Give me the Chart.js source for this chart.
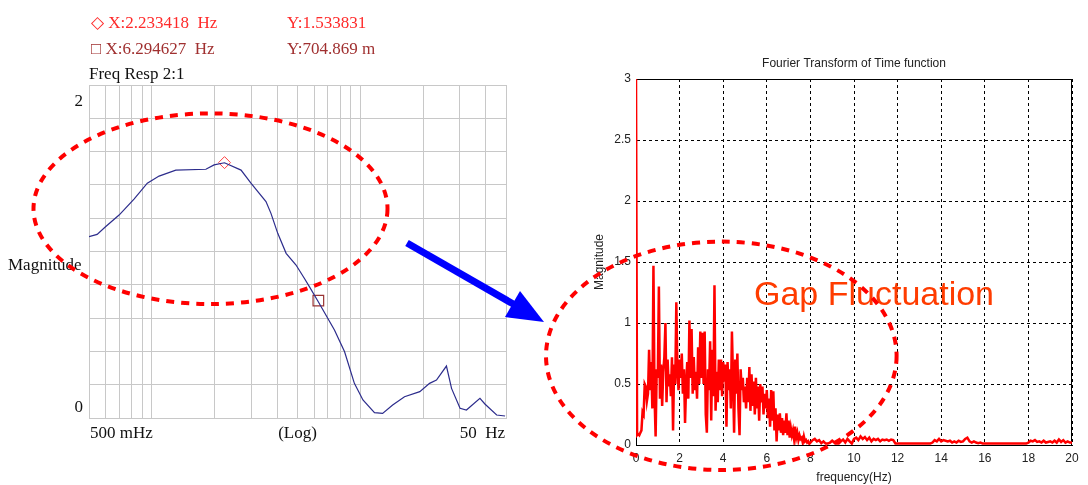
<!DOCTYPE html>
<html>
<head>
<meta charset="utf-8">
<script src="https://cdn.jsdelivr.net/npm/chart.js@4.4.1/dist/chart.umd.min.js"></script>
<style>
    html, body { margin: 0; padding: 0; background: #fff; }
    #wrap { position: relative; width: 1088px; height: 485px; overflow: hidden; }
    #respChart { position: absolute; left: 0; top: 0; }
    #fftChart { position: absolute; left: 560px; top: 0; }
    #marks { position: absolute; left: 0; top: 0; pointer-events: none; }
</style>
</head>
<body>
<div id="wrap">
    <canvas id="respChart" width="540" height="485"></canvas>
    <canvas id="fftChart" width="528" height="485"></canvas>
    <svg id="marks" width="1088" height="485">
        <ellipse cx="210.5" cy="208.7" rx="177" ry="95.3" fill="none" stroke="#ff0000" stroke-width="4" stroke-dasharray="8 7"/>
        <ellipse cx="721.3" cy="355.8" rx="175.3" ry="114.2" fill="none" stroke="#ff0000" stroke-width="4" stroke-dasharray="8 7"/>
        <line x1="407" y1="243" x2="515" y2="305" stroke="#0000ff" stroke-width="7"/>
        <polygon points="544,322 505,317 520,291" fill="#0000ff"/>
    </svg>
</div>
<script>
// ---- left panel: analyser frequency response (log x) ----
const respHz  = [0.5, 0.547, 0.6, 0.697, 0.822, 0.952, 1.084, 1.304, 1.818, 1.99, 2.233, 2.68, 2.99,
                 3.53, 3.73, 4.02, 4.41, 4.92, 5.39, 5.7, 6.29, 7.52, 8.41, 9.37, 10.3, 11.7, 12.8,
                 14.3, 16.3, 19.3, 21.5, 23.2, 25.9, 27.4, 30.1, 32.3, 37.5, 39.6, 45.1, 49.5];
const respMag = [1.089, 1.103, 1.149, 1.219, 1.315, 1.41, 1.453, 1.489, 1.494, 1.52, 1.533, 1.489, 1.41,
                 1.30, 1.229, 1.109, 0.989, 0.919, 0.839, 0.789, 0.698, 0.529, 0.398, 0.208, 0.108, 0.032, 0.028,
                 0.078, 0.128, 0.158, 0.208, 0.228, 0.312, 0.178, 0.058, 0.048, 0.118, 0.084, 0.018, 0.012];
const leftGridHz = [0.5, 0.6, 0.7, 0.8, 0.9, 1, 2, 3, 4, 5, 6, 7, 8, 9, 10, 20, 30, 40, 50];
const cursorHz  = [2.233418, 6.294627];
const cursorMag = [1.533831, 0.704869];
const cursorText = [
    ['\u25C7 X:2.233418  Hz', 'Y:1.533831'],
    ['\u25A1 X:6.294627  Hz', 'Y:704.869 m']
];
const cursorColors = ['#ff2a2a', '#a03030'];
const leftYLabels = ['2', '0'];
const leftXLabels = ['500 mHz', '(Log)', '50  Hz'];

// ---- right panel: FFT magnitude ----
// 0 .. 8 Hz sampled every 0.05 Hz
const fftLowStep = 0.05;
const fftLowMag = [
    3.0, 0.08, 0.09, 0.08, 0.10, 0.12, 0.27, 0.25, 0.50, 0.48,
    0.36, 0.42, 0.78, 0.45, 0.68, 0.30, 1.47, 0.40, 0.07, 0.62,
    0.55, 1.30, 0.38, 0.66, 0.32, 0.60, 0.72, 1.00, 0.35, 0.70,
    0.48, 0.58, 0.40, 0.72, 0.12, 0.66, 0.50, 1.17, 0.62, 0.45,
    0.70, 0.55, 0.75, 0.42, 0.62, 0.18, 0.50, 0.68, 0.38, 1.02,
    0.55, 0.95, 0.42, 0.72, 0.45, 0.60, 0.38, 0.80, 0.50, 0.93,
    0.55, 0.92, 0.50, 0.93, 0.25, 0.10, 0.62, 0.45, 0.85, 0.20,
    0.78, 0.40, 1.31, 0.28, 0.60, 0.35, 0.70, 0.45, 0.70, 0.40,
    0.68, 0.52, 0.66, 0.15, 0.68, 0.45, 0.62, 0.30, 0.93, 0.55,
    0.10, 0.70, 0.42, 0.75, 0.30, 0.08, 0.62, 0.45, 0.55, 0.35,
    0.48, 0.30, 0.55, 0.35, 0.64, 0.28, 0.58, 0.32, 0.52, 0.25,
    0.55, 0.30, 0.48, 0.20, 0.50, 0.35, 0.48, 0.25, 0.42, 0.30,
    0.45, 0.22, 0.38, 0.15, 0.45, 0.20, 0.44, 0.12, 0.30, 0.03,
    0.25, 0.12, 0.26, 0.10, 0.22, 0.08, 0.20, 0.10, 0.26, 0.08,
    0.20, 0.06, 0.14, 0.08, 0.12, 0.05, 0.15, 0.06, 0.10, 0.04,
    0.08, 0.05, 0.06, 0.02, 0.07, 0.03, 0.04, 0.02, 0.03, 0.01,
    0.02
];
// 8.1 .. 20 Hz sampled every 0.1 Hz
const fftHighStart = 8.1;
const fftHighStep = 0.1;
const fftHighMag = [
    0.04, 0.05, 0.03, 0.04, 0.015, 0.03, 0.012, 0.012, 0.02, 0.035,
    0.02, 0.012, 0.012, 0.03, 0.045, 0.02, 0.05, 0.03, 0.012, 0.05,
    0.06, 0.04, 0.07, 0.05, 0.065, 0.04, 0.06, 0.03, 0.05, 0.04,
    0.05, 0.03, 0.045, 0.04, 0.045, 0.035, 0.045, 0.04, 0.012, 0.012,
    0.012, 0.012, 0.012, 0.012, 0.012, 0.012, 0.012, 0.012, 0.012, 0.012,
    0.012, 0.012, 0.012, 0.012, 0.012, 0.02, 0.04, 0.03, 0.05, 0.03,
    0.04, 0.035, 0.03, 0.035, 0.02, 0.03, 0.02, 0.035, 0.025, 0.03,
    0.05, 0.06, 0.03, 0.02, 0.03, 0.02, 0.015, 0.02, 0.012, 0.012,
    0.012, 0.012, 0.012, 0.012, 0.012, 0.012, 0.012, 0.012, 0.012, 0.012,
    0.012, 0.012, 0.012, 0.012, 0.012, 0.012, 0.012, 0.012, 0.012, 0.02,
    0.035, 0.03, 0.04, 0.025, 0.03, 0.02, 0.035, 0.02, 0.025, 0.03,
    0.02, 0.035, 0.02, 0.045, 0.025, 0.04, 0.02, 0.03, 0.02, 0.02
];
const fftTitle = 'Fourier Transform of Time function';
const fftXTitle = 'frequency(Hz)';
const fftYTitle = 'Magnitude';
const noteText = 'Gap Fluctuation';

const serif = '"Liberation Serif", "Times New Roman", serif';
const sans = '"Liberation Sans", Arial, sans-serif';

// text around the analyser plot (cursor readouts, sparse axis labels)
const respLabels = {
    id: 'respLabels',
    afterDraw(chart) {
        const { ctx, scales: { x, y }, chartArea } = chart;
        ctx.save();
        ctx.font = '17px ' + serif;
        ctx.textBaseline = 'alphabetic';
        ctx.textAlign = 'left';
        cursorText.forEach((row, i) => {
            ctx.fillStyle = cursorColors[i];
            ctx.fillText(row[0], 91, 28 + i * 26);
            ctx.fillText(row[1], 287, 28 + i * 26);
        });
        ctx.fillStyle = '#111';
        ctx.fillText('Freq Resp 2:1', 89, 79);
        ctx.fillText('Magnitude', 8, 270);

        ctx.textAlign = 'right';
        ctx.fillText(leftYLabels[0], 83, y.getPixelForValue(2) + 21);
        ctx.fillText(leftYLabels[1], 83, y.getPixelForValue(0) - 6);

        const base = chartArea.bottom + 20;
        ctx.textAlign = 'left';
        ctx.fillText(leftXLabels[0], x.getPixelForValue(0.5) + 1, base);
        ctx.textAlign = 'center';
        ctx.fillText(leftXLabels[1], x.getPixelForValue(5), base);
        ctx.textAlign = 'right';
        ctx.fillText(leftXLabels[2], x.getPixelForValue(50) - 1, base);
        ctx.restore();
    }
};

new Chart(document.getElementById('respChart'), {
    type: 'line',
    data: {
        datasets: [
            {
                data: respHz.map((f, i) => ({ x: f, y: respMag[i] })),
                borderColor: '#2c2c8c',
                borderWidth: 1.2,
                pointRadius: 0,
                tension: 0
            },
            {
                data: [{ x: cursorHz[0], y: cursorMag[0] }],
                showLine: false,
                pointStyle: 'rectRot',
                pointRadius: 6,
                borderColor: '#ff4040',
                backgroundColor: 'rgba(0,0,0,0)',
                borderWidth: 1
            },
            {
                data: [{ x: cursorHz[1], y: cursorMag[1] }],
                showLine: false,
                pointStyle: 'rect',
                pointRadius: 7.5,
                borderColor: '#993333',
                backgroundColor: 'rgba(0,0,0,0)',
                borderWidth: 1.2
            }
        ]
    },
    options: {
        responsive: false,
        animation: false,
        layout: { padding: { left: 89, top: 85, right: 34, bottom: 67 } },
        plugins: { legend: { display: false }, tooltip: { enabled: false } },
        scales: {
            x: {
                type: 'logarithmic',
                min: 0.5,
                max: 50,
                afterBuildTicks: scale => {
                    scale.ticks = leftGridHz.map(v => ({ value: v }));
                },
                ticks: { display: false },
                grid: { color: '#c8c8c8', drawTicks: false },
                border: { color: '#c8c8c8' }
            },
            y: {
                min: 0,
                max: 2,
                ticks: { display: false, stepSize: 0.2 },
                grid: { color: '#c8c8c8', drawTicks: false },
                border: { color: '#c8c8c8' }
            }
        }
    },
    plugins: [respLabels]
});

// box around the MATLAB axes + the annotation text
const fftExtras = {
    id: 'fftExtras',
    beforeDatasetsDraw(chart) {
        const { ctx, chartArea: a } = chart;
        ctx.save();
        ctx.strokeStyle = '#000';
        ctx.lineWidth = 1;
        ctx.strokeRect(a.left + 0.5, a.top + 0.5, a.right - a.left - 1, a.bottom - a.top);
        ctx.restore();
    },
    afterDraw(chart) {
        const { ctx } = chart;
        ctx.save();
        ctx.font = '34px ' + sans;
        ctx.fillStyle = '#ff3c00';
        ctx.textAlign = 'left';
        ctx.textBaseline = 'alphabetic';
        ctx.fillText(noteText, 194, 305);
        ctx.restore();
    }
};

const fftData = fftLowMag.map((m, i) => ({ x: i * fftLowStep, y: m }))
    .concat(fftHighMag.map((m, i) => ({ x: fftHighStart + i * fftHighStep, y: m })));

new Chart(document.getElementById('fftChart'), {
    type: 'line',
    data: {
        datasets: [{
            data: fftData,
            borderColor: '#ff0000',
            borderWidth: 2.5,
            pointRadius: 0,
            tension: 0
        }]
    },
    options: {
        responsive: false,
        animation: false,
        layout: { padding: { left: 0, top: 0, right: 16, bottom: 0 } },
        plugins: {
            legend: { display: false },
            tooltip: { enabled: false },
            title: {
                display: true,
                text: fftTitle,
                fullSize: false,
                color: '#222',
                font: { family: sans, size: 12, weight: 'normal' },
                padding: { top: 56, bottom: 8.6 }
            }
        },
        scales: {
            x: {
                type: 'linear',
                min: 0,
                max: 20,
                afterFit: scale => { scale.height = 40; },
                ticks: { stepSize: 2, color: '#222', padding: 6, font: { family: sans, size: 12 } },
                grid: { color: '#000', drawTicks: false },
                border: { color: '#000', dash: [3, 3] },
                title: {
                    display: true,
                    text: fftXTitle,
                    color: '#222',
                    font: { family: sans, size: 12 },
                    padding: { top: 0, bottom: 0 }
                }
            },
            y: {
                min: 0,
                max: 3,
                afterFit: scale => { scale.width = 76; },
                ticks: {
                    stepSize: 0.5,
                    color: '#222',
                    padding: 5,
                    font: { family: sans, size: 12 },
                    callback: value => String(value)
                },
                grid: { color: '#000', drawTicks: false },
                border: { color: '#000', dash: [3, 3] },
                title: {
                    display: true,
                    text: fftYTitle,
                    color: '#222',
                    font: { family: sans, size: 12 },
                    padding: { top: 32, bottom: 0 }
                }
            }
        }
    },
    plugins: [fftExtras]
});
</script>
</body>
</html>
